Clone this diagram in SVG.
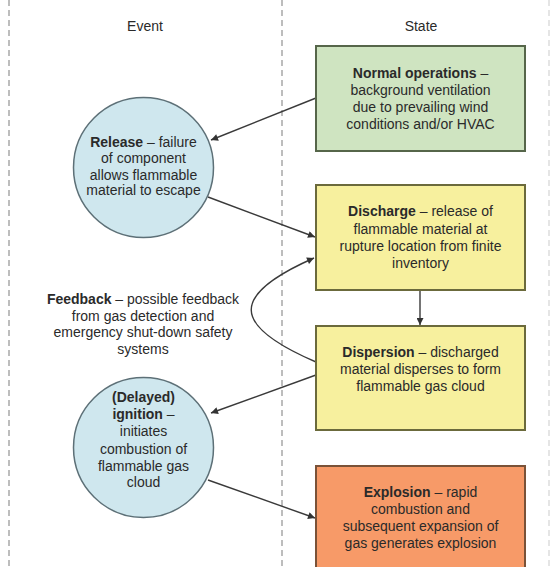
<svg xmlns="http://www.w3.org/2000/svg" width="552" height="567" viewBox="0 0 552 567">
<defs>
<marker id="ah" viewBox="0 0 10 10" refX="10" refY="5" markerWidth="8" markerHeight="7" markerUnits="userSpaceOnUse" orient="auto">
<path d="M0,0 L10,5 L0,10 z" fill="#333"/>
</marker>
</defs>
<style>
text{font-family:"Liberation Sans",Arial,sans-serif;font-size:14px;fill:#2a2a2a;text-anchor:middle}
.b{font-weight:bold}
.lane{stroke:#a8a8a8;stroke-width:1.5;stroke-dasharray:6 4;fill:none}
.box{stroke-width:2}
.green{fill:#cfe4c1;stroke:#56664a}
.yellow{fill:#f7f09e;stroke:#6b6a3c}
.orange{fill:#f79a68;stroke:#7a5238}
.circ{fill:#cfe7ee;stroke:#5d7077;stroke-width:1.5}
.edge{stroke:#3a3a3a;stroke-width:1.4;fill:none;marker-end:url(#ah)}
</style>
<rect width="552" height="567" fill="#fff"/>
<g id="lanes">
<line class="lane" x1="9" y1="0" x2="9" y2="567"/>
<line class="lane" x1="282" y1="0" x2="282" y2="567"/>
<line class="lane" x1="549" y1="0" x2="549" y2="567" stroke-opacity="0.4"/>
<text x="145" y="31">Event</text>
<text x="421" y="31">State</text>
</g>
<g id="connectors">
<line class="edge" x1="316" y1="98" x2="211" y2="140"/>
<line class="edge" x1="208" y1="197" x2="315" y2="237"/>
<line class="edge" x1="420" y1="290" x2="420" y2="325"/>
<path class="edge" d="M316,362 C230,325 230,295 314,258"/>
<line class="edge" x1="316" y1="375" x2="211" y2="413"/>
<line class="edge" x1="208" y1="480" x2="315" y2="518"/>
</g>
<g id="normal">
<rect class="box green" x="316" y="46" width="209" height="105"/>
<text x="420.5" y="78"><tspan class="b">Normal operations</tspan> –</text>
<text x="420.5" y="95">background ventilation</text>
<text x="420.5" y="112">due to prevailing wind</text>
<text x="420.5" y="129">conditions and/or HVAC</text>
</g>
<g id="release">
<circle class="circ" cx="143.5" cy="167.5" r="70"/>
<text x="143.5" y="146.5"><tspan class="b">Release</tspan> – failure</text>
<text x="143.5" y="163">of component</text>
<text x="143.5" y="179.5">allows flammable</text>
<text x="143.5" y="195">material to escape</text>
</g>
<g id="discharge">
<rect class="box yellow" x="316" y="185" width="209" height="105"/>
<text x="420.5" y="216"><tspan class="b">Discharge</tspan> – release of</text>
<text x="420.5" y="234">flammable material at</text>
<text x="420.5" y="251">rupture location from finite</text>
<text x="420.5" y="268">inventory</text>
</g>
<g id="feedback">
<text x="143" y="304"><tspan class="b">Feedback</tspan> – possible feedback</text>
<text x="143" y="321">from gas detection and</text>
<text x="143" y="337">emergency shut-down safety</text>
<text x="143" y="354">systems</text>
</g>
<g id="dispersion">
<rect class="box yellow" x="316" y="326" width="209" height="104"/>
<text x="420.5" y="357"><tspan class="b">Dispersion</tspan> – discharged</text>
<text x="420.5" y="374">material disperses to form</text>
<text x="420.5" y="391">flammable gas cloud</text>
</g>
<g id="ignition">
<circle class="circ" cx="143.5" cy="447.5" r="70"/>
<text x="143.5" y="402" class="b">(Delayed)</text>
<text x="143.5" y="419"><tspan class="b">ignition</tspan> –</text>
<text x="143.5" y="436">initiates</text>
<text x="143.5" y="454">combustion of</text>
<text x="143.5" y="471">flammable gas</text>
<text x="143.5" y="487">cloud</text>
</g>
<g id="explosion">
<rect class="box orange" x="316" y="466" width="209" height="110"/>
<text x="420.5" y="497"><tspan class="b">Explosion</tspan> – rapid</text>
<text x="420.5" y="514">combustion and</text>
<text x="420.5" y="531">subsequent expansion of</text>
<text x="420.5" y="548">gas generates explosion</text>
</g>
</svg>
